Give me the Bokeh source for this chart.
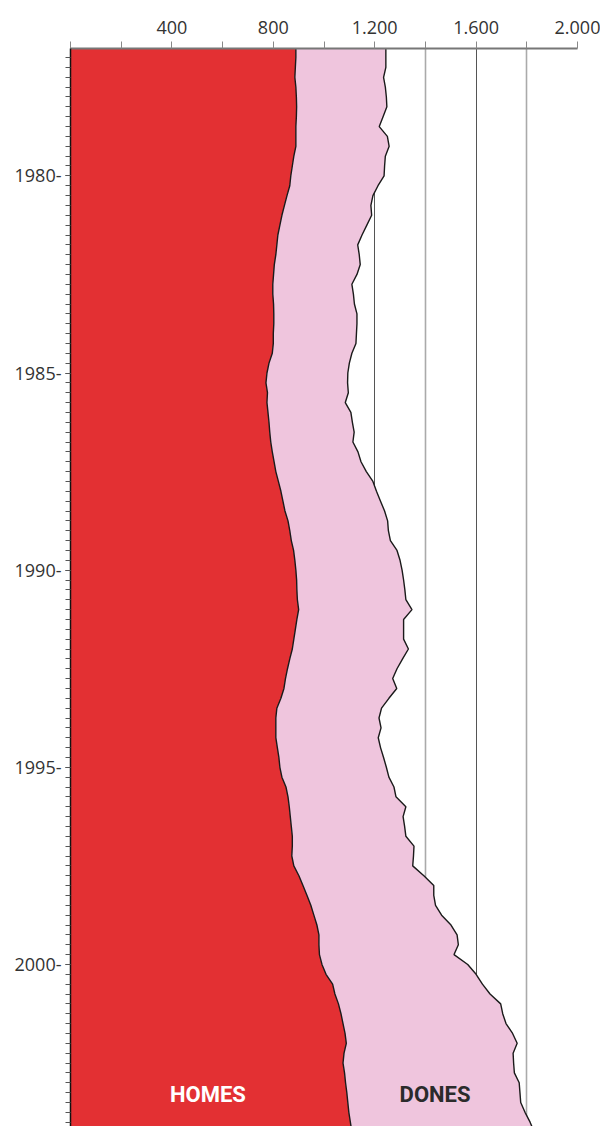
from bokeh.plotting import figure
from bokeh.models import ColumnDataSource, Range1d, FixedTicker, Grid
from bokeh.core.properties import value
from bokeh.embed import file_html
from bokeh.resources import INLINE

# Quarterly observations, 1976 Q4 .. 2004 Q2
years = [1976.75 + 0.25 * i for i in range(111)]

homes = [889, 889, 887, 885, 889, 891, 892, 891, 889, 889,
         889, 881, 875, 869, 865, 854, 844, 834, 826, 818,
         814, 810, 804, 801, 798, 798, 801, 802, 802, 800,
         800, 796, 783, 775, 771, 777, 775, 779, 783, 786,
         790, 796, 803, 810, 820, 830, 838, 846, 858, 865,
         871, 880, 885, 889, 892, 893, 895, 900, 893, 887,
         881, 875, 865, 856, 848, 842, 830, 814, 810, 810,
         810, 816, 822, 826, 834, 850, 858, 863, 867, 871,
         875, 875, 873, 881, 901, 917, 933, 948, 960, 972,
         980, 980, 982, 992, 1008, 1034, 1043, 1057, 1067, 1075,
         1083, 1088, 1079, 1075, 1081, 1085, 1090, 1094, 1098, 1104,
         1110]

dones = [355, 355, 357, 350, 353, 355, 356, 342, 329, 361,
         368, 361, 364, 368, 348, 339, 341, 354, 343, 332,
         319, 329, 339, 329, 312, 318, 319, 328, 328, 328,
         326, 314, 317, 319, 322, 319, 309, 327, 329, 333,
         324, 338, 343, 357, 373, 377, 385, 393, 393, 389,
         391, 408, 415, 419, 422, 426, 428, 447, 421, 427,
         433, 458, 445, 432, 423, 445, 426, 413, 407, 415,
         404, 407, 413, 420, 422, 426, 426, 460, 445, 447,
         448, 480, 480, 469, 493, 516, 500, 492, 504, 529,
         545, 550, 531, 575, 592, 591, 612, 640, 638, 643,
         661, 674, 667, 673, 670, 685, 683, 682, 695, 709,
         719]

x_ticks = [0, 200, 400, 600, 800, 1000, 1200, 1400, 1600, 1800, 2000]
x_labels = {0: "", 200: "", 400: "400", 600: "", 800: "800", 1000: "",
            1200: "1.200", 1400: "", 1600: "1.600", 1800: "", 2000: "2.000"}
y_ticks = [1980, 1985, 1990, 1995, 2000]
y_labels = {1980: "1980-", 1985: "1985-", 1990: "1990-", 1995: "1995-", 2000: "2000-"}

RED = "#e33033"
PINK = "#efc5dd"

total = [h + d for h, d in zip(homes, dones)]
source = ColumnDataSource(dict(year=years, homes=homes, dones=dones, total=total))

p = figure(width=600, height=1126, output_backend="svg", toolbar_location=None,
           x_range=Range1d(0, 2000), y_range=Range1d(2004.11, 1976.77),
           x_axis_location="above", min_border_left=70, min_border_right=23,
           min_border_top=48, min_border_bottom=0)
p.outline_line_color = None
p.xgrid.visible = False
p.ygrid.visible = False

grid_major = Grid(dimension=0, ticker=FixedTicker(ticks=[400, 800, 1200, 1600]),
                  grid_line_color="#555555", grid_line_width=1)
grid_minor = Grid(dimension=0, ticker=FixedTicker(ticks=[200, 600, 1000, 1400, 1800, 2000]),
                  grid_line_color="#aaaaaa", grid_line_width=1.6)
p.add_layout(grid_major)
p.add_layout(grid_minor)

p.harea_stack(["homes", "dones"], y="year", color=[RED, PINK], source=source)
p.line(x="homes", y="year", source=source, line_color="#1a1a1a", line_width=1.4)
p.line(x="total", y="year", source=source, line_color="#1a1a1a", line_width=1.4)

p.text(x=[542], y=[2003.3], text=["HOMES"], text_color="white",
       text_font=value("Roboto"), text_font_style="bold",
       text_font_size="22px", text_align="center", text_baseline="middle")
p.text(x=[1438], y=[2003.3], text=["DONES"], text_color="#2b2b2b",
       text_font=value("Roboto"), text_font_style="bold",
       text_font_size="22px", text_align="center", text_baseline="middle")

xa = p.xaxis[0]
xa.ticker = FixedTicker(ticks=x_ticks)
xa.major_label_overrides = x_labels
xa.axis_line_color = "#777777"
xa.axis_line_width = 2
xa.major_tick_line_color = "#888888"
xa.major_tick_out = 7
xa.major_tick_in = 0
xa.minor_tick_line_color = None
xa.major_label_standoff = 8
xa.major_label_text_font = "Open Sans"
xa.major_label_text_font_size = "18px"
xa.major_label_text_color = "#333333"

ya = p.yaxis[0]
minor_q = [1977 + 0.25 * i for i in range(109)]
ya.ticker = FixedTicker(ticks=y_ticks, minor_ticks=minor_q)
ya.major_label_overrides = y_labels
ya.axis_line_color = "#111111"
ya.axis_line_width = 1.5
ya.major_tick_line_color = "#444444"
ya.major_tick_out = 5
ya.major_tick_in = 0
ya.minor_tick_line_color = "#555555"
ya.minor_tick_out = 5
ya.minor_tick_in = 0
ya.major_label_standoff = 4
ya.major_label_text_font = "Open Sans"
ya.major_label_text_font_size = "18px"
ya.major_label_text_color = "#333333"

open("out.html", "w").write(file_html(p, INLINE))
